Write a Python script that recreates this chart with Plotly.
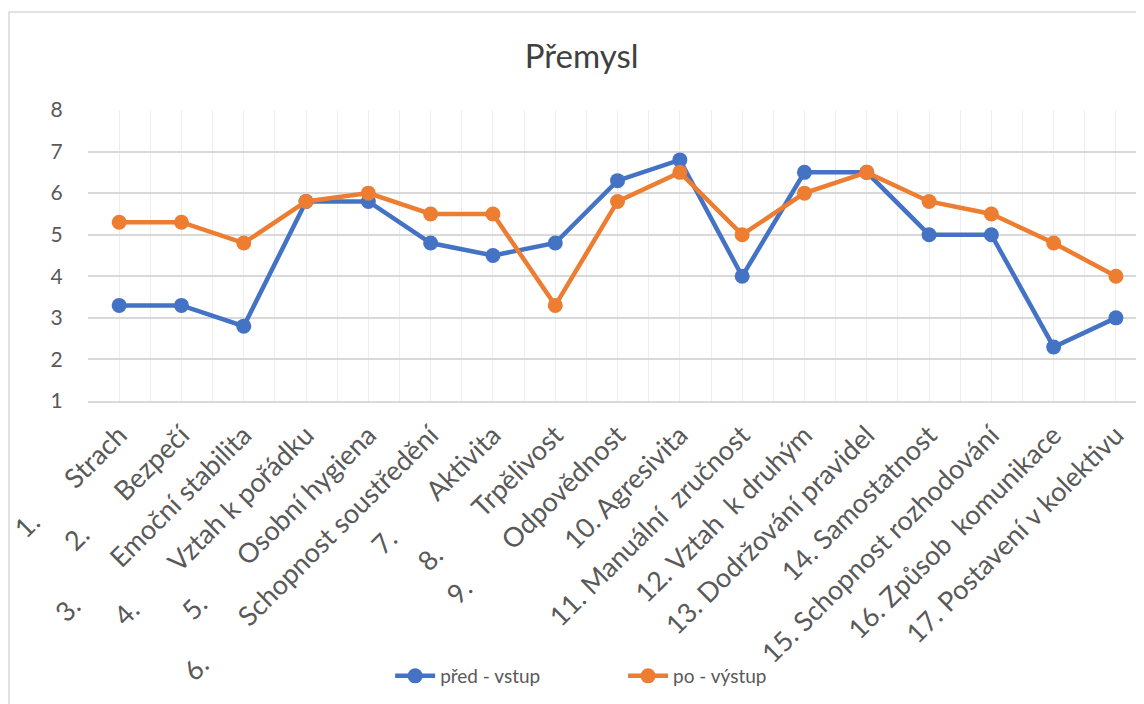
import plotly.graph_objects as go

NB = "\u00a0"

categories = [
    "1." + NB * 7 + "Strach",
    "2." + NB * 7 + "Bezpečí",
    "3." + NB * 8 + "Emoční stabilita",
    "4." + NB * 8 + "Vztah k pořádku",
    "5." + NB * 8 + "Osobní hygiena",
    "6." + NB * 8 + "Schopnost soustředění",
    "7." + NB * 8 + "Aktivita",
    "8." + NB * 8 + "Trpělivost",
    "9." + NB * 8 + "Odpovědnost",
    "10. Agresivita",
    "11. Manuální" + NB * 2 + "zručnost",
    "12. Vztah" + NB * 2 + "k druhým",
    "13. Dodržování pravidel",
    "14. Samostatnost",
    "15. Schopnost rozhodování",
    "16. Způsob" + NB * 2 + "komunikace",
    "17. Postavení v kolektivu",
]
pred_vstup = [3.3, 3.3, 2.8, 5.8, 5.8, 4.8, 4.5, 4.8, 6.3, 6.8, 4.0, 6.5, 6.5, 5.0, 5.0, 2.3, 3.0]
po_vystup = [5.3, 5.3, 4.8, 5.8, 6.0, 5.5, 5.5, 3.3, 5.8, 6.5, 5.0, 6.0, 6.5, 5.8, 5.5, 4.8, 4.0]
y_ticks = [1, 2, 3, 4, 5, 6, 7, 8]

FONT = "Lato, 'Noto Sans', sans-serif"
TXT = "#595959"
BLUE = "#4472C4"
ORANGE = "#ED7D31"

pos = list(range(len(categories)))

fig = go.Figure()
fig.add_trace(go.Scatter(
    x=pos, y=pred_vstup, name="před - vstup" + NB * 16, mode="lines+markers",
    line=dict(color=BLUE, width=4.5), marker=dict(color=BLUE, size=15),
))
fig.add_trace(go.Scatter(
    x=pos, y=po_vystup, name="po - výstup", mode="lines+markers",
    line=dict(color=ORANGE, width=4.5), marker=dict(color=ORANGE, size=15),
))

# stránka má okraj 8 px, proto je obrázek o 8 px menší
fig.update_layout(
    width=1136, height=696,
    paper_bgcolor="white", plot_bgcolor="white",
    margin=dict(l=80, r=0, t=102, b=303),
    font=dict(family=FONT, color=TXT),
    title=dict(text="Přemysl", x=0.505, xanchor="center", y=0.93, yanchor="middle",
               font=dict(size=33, color="#404040", family=FONT)),
    xaxis=dict(
        range=[-0.5, 16.45], tickmode="array", tickvals=pos, ticktext=categories,
        tickangle=-45, tickfont=dict(size=27, color=TXT),
        ticks="outside", ticklen=6, tickcolor="rgba(0,0,0,0)",
        ticklabeloverflow="allow",
        showgrid=True, gridcolor="#ededed", gridwidth=1,
        minor=dict(tickmode="array", tickvals=[p + 0.5 for p in pos[:-1]],
                   showgrid=True, gridcolor="#ededed", gridwidth=1),
        showline=True, linecolor="#d9d9d9", linewidth=1.5, zeroline=False,
        automargin=False,
    ),
    yaxis=dict(
        range=[1, 8], tickvals=y_ticks, tickfont=dict(size=21, color=TXT),
        ticks="outside", ticklen=20, tickcolor="rgba(0,0,0,0)",
        showgrid=True, gridcolor="#d9d9d9", gridwidth=1.5, zeroline=False,
        automargin=False,
    ),
    legend=dict(orientation="h", x=0.467, xanchor="center", y=-0.945, yanchor="middle",
                font=dict(size=19, color=TXT, family=FONT), itemwidth=40),
    shapes=[dict(type="rect", xref="paper", yref="paper",
                 x0=-0.0748, x1=1.2, y0=-2.0, y1=1.337,
                 line=dict(color="#d9d9d9", width=1.5), fillcolor="rgba(0,0,0,0)", layer="below")],
)

fig.write_html("out.html")
